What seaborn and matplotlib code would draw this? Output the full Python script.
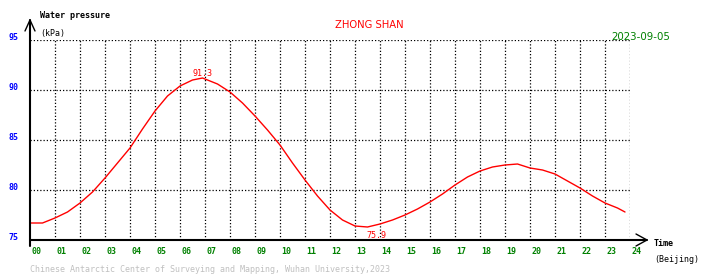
import matplotlib
matplotlib.use("Agg")
import matplotlib.pyplot as plt
import seaborn as sns
import pandas as pd

hours = [0, 0.5, 1, 1.5, 2, 2.5, 3, 3.5, 4, 4.5, 5, 5.5, 6, 6.5, 6.9, 7.5, 8, 8.5, 9,
         9.5, 10, 10.5, 11, 11.5, 12, 12.5, 13, 13.5, 14, 14.5, 15, 15.5, 16, 16.5,
         17, 17.5, 18, 18.5, 19, 19.5, 20, 20.5, 21, 21.5, 22, 22.5, 23, 23.5, 23.8]
pressure = [76.7, 76.7, 77.2, 77.8, 78.7, 79.8, 81.2, 82.7, 84.2, 86.1, 87.9, 89.4, 90.4,
            91.0, 91.2, 90.6, 89.8, 88.7, 87.4, 86.0, 84.5, 82.7, 81.0, 79.4, 78.0, 77.0,
            76.4, 76.3, 76.6, 77.0, 77.5, 78.1, 78.8, 79.6, 80.5, 81.3, 81.9, 82.3, 82.5,
            82.6, 82.2, 82.0, 81.6, 80.9, 80.2, 79.4, 78.7, 78.2, 77.8]
x_ticks = list(range(0, 25))
x_tick_labels = [f"{h:02d}" for h in x_ticks]
y_ticks = [75, 80, 85, 90, 95]
max_label = (6.9, 91.3)
min_label = (13.85, 75.9)

sns.set_theme(style="white")
plt.rcParams['font.family'] = ['DejaVu Sans Mono', 'DejaVu Sans']

W, H = 710, 278
fig = plt.figure(figsize=(W / 100, H / 100), dpi=100)
fig.patch.set_facecolor("white")
ax = fig.add_axes([30 / W, (H - 240) / H, 600 / W, 200 / H])
ax.set_facecolor("white")

df = pd.DataFrame({"hour": hours, "kPa": pressure})
sns.lineplot(data=df, x="hour", y="kPa", ax=ax, color="#ff0000", linewidth=1.0)

ax.set_xlim(0, 24)
ax.set_ylim(75, 95)
for s in ax.spines.values():
    s.set_visible(False)
ax.set_xticks([])
ax.set_yticks([])
ax.set_xlabel("")
ax.set_ylabel("")

# dotted grid
for h in range(1, 25):
    ax.axvline(h, color="black", linestyle=(0, (1, 1.6)), linewidth=0.9, zorder=0)
for v in y_ticks[1:]:
    ax.axhline(v, color="black", linestyle=(0, (1, 1.6)), linewidth=0.9, zorder=0)

# tick labels
for h, lab in zip(x_ticks, x_tick_labels):
    ax.text(h + 0.05, 73.8, lab, color="#008000", fontsize=6, ha="left", va="center",
            fontweight="bold", clip_on=False)
for v in y_ticks:
    ax.text(-0.45, v + 0.2, str(v), color="#0000ff", fontsize=6, ha="right", va="center",
            fontweight="bold", clip_on=False)

# axes with arrows (figure pixel coords)
fig.add_artist(plt.Line2D([30 / W, 30 / W], [(H - 246) / H, (H - 20) / H], color="black", lw=1.5))
fig.add_artist(plt.Line2D([25 / W, 30 / W, 35 / W], [(H - 31) / H, (H - 20) / H, (H - 31) / H], color="black", lw=1))
fig.add_artist(plt.Line2D([30 / W, 647 / W], [(H - 240) / H, (H - 240) / H], color="black", lw=1.5))
fig.add_artist(plt.Line2D([636 / W, 647 / W, 636 / W], [(H - 234) / H, (H - 240) / H, (H - 246) / H], color="black", lw=1))

# extreme labels
ax.text(max_label[0], max_label[1] + 0.4, f"{max_label[1]:.1f}", color="#ff0000", fontsize=6,
        ha="center", va="center")
ax.text(min_label[0], min_label[1] - 0.5, f"{min_label[1]:.1f}", color="#ff0000", fontsize=6,
        ha="center", va="center")

# texts
fig.text(40 / W, (H - 16) / H, "Water pressure", fontsize=6, color="black", ha="left", va="center", fontweight="bold")
fig.text(40 / W, (H - 33.5) / H, "(kPa)", fontsize=6, color="black", ha="left", va="center")
fig.text(369 / W, (H - 25) / H, "ZHONG SHAN", fontsize=7.2, color="#ff0000", ha="center", va="center",
         family=["DejaVu Sans"])
fig.text(641 / W, (H - 37) / H, "2023-09-05", fontsize=7.4, color="#008000", ha="center", va="center",
         family=["DejaVu Sans"])
fig.text(654 / W, (H - 244) / H, "Time", fontsize=6, color="black", ha="left", va="center", fontweight="bold")
fig.text(654 / W, (H - 260) / H, "(Beijing)", fontsize=6, color="black", ha="left", va="center")
fig.text(30 / W, (H - 270) / H, "Chinese Antarctic Center of Surveying and Mapping, Wuhan University,2023",
         fontsize=6, color="#c0c0c0", ha="left", va="center")

fig.savefig("out.png", dpi=100, facecolor="white")
